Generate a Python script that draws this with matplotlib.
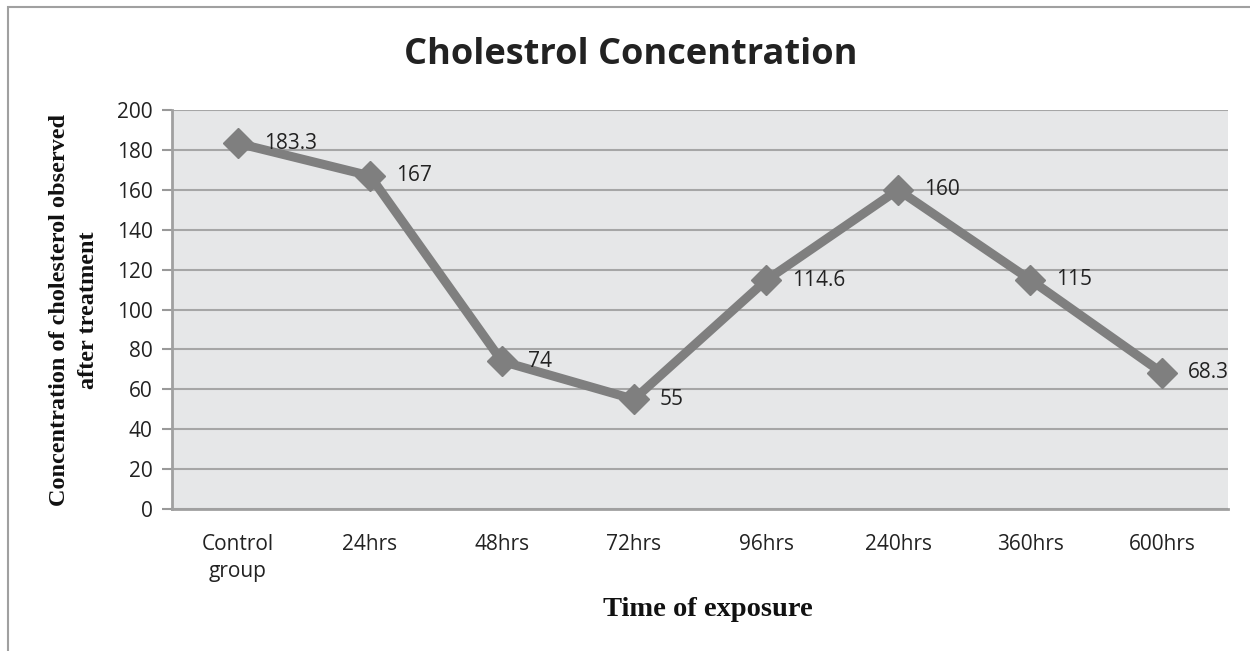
import matplotlib.pyplot as plt
from matplotlib.patches import Rectangle

categories = ["Control\ngroup", "24hrs", "48hrs", "72hrs", "96hrs", "240hrs", "360hrs", "600hrs"]
values = [183.3, 167, 74, 55, 114.6, 160, 115, 68.3]
labels = ["183.3", "167", "74", "55", "114.6", "160", "115", "68.3"]
yticks = [0, 20, 40, 60, 80, 100, 120, 140, 160, 180, 200]

W, H = 1250, 651
fig = plt.figure(figsize=(W / 100, H / 100), dpi=100)

# outer chart border
fig.patches.append(Rectangle((8 / W, -0.1), 1.2, (H - 7) / H + 0.1, transform=fig.transFigure,
                             fill=False, edgecolor="#a0a0a0", linewidth=1.5))

ax = fig.add_axes([172 / W, 1 - 509 / H, (1228 - 172) / W, (509 - 110) / H])
ax.set_facecolor("#e6e7e8")

x = list(range(len(categories)))
ax.plot(x, values, color="#7f7f7f", linewidth=6.5, marker="D", markersize=15,
        markerfacecolor="#7f7f7f", markeredgecolor="#7f7f7f", zorder=3, solid_joinstyle="miter")
for xi, v, lab in zip(x, values, labels):
    ax.annotate(lab, (xi, v), xytext=(26, 0), textcoords="offset pixels",
                va="center", ha="left", fontsize=15, fontfamily="Open Sans", color="#222222", zorder=4)

ax.set_xlim(-0.5, len(categories) - 0.5)
ax.set_ylim(0, 200)
ax.set_yticks(yticks)
ax.set_xticks(x)
ax.set_xticklabels(categories, fontsize=15, fontfamily="Open Sans", color="#222222", linespacing=1.4)
ax.tick_params(axis="y", labelsize=15, length=7, color="#999999", width=1.5, pad=7, labelcolor="#222222")
for t in ax.get_yticklabels():
    t.set_fontfamily("Open Sans")
ax.tick_params(axis="x", length=0, pad=18)
ax.grid(axis="y", color="#a6a6a6", linewidth=1.5)
ax.set_axisbelow(True)
for side in ["top", "right"]:
    ax.spines[side].set_visible(False)
for side in ["left", "bottom"]:
    ax.spines[side].set_color("#a0a0a0")
    ax.spines[side].set_linewidth(2)

fig.text(631 / W, 1 - 55 / H, "Cholestrol Concentration", ha="center", va="center",
         fontsize=26, fontweight="bold", fontfamily="Open Sans", color="#222222")
fig.text(74 / W, 1 - 310 / H, "Concentration of cholesterol observed\nafter treatment",
         ha="center", va="center", rotation=90, fontsize=17.5, fontweight="bold",
         fontfamily="Liberation Serif", color="#111111", linespacing=1.5)
fig.text(708 / W, 1 - 609 / H, "Time of exposure", ha="center", va="center",
         fontsize=20.5, fontweight="bold", fontfamily="Liberation Serif", color="#111111")

fig.savefig("out.png", dpi=100)
